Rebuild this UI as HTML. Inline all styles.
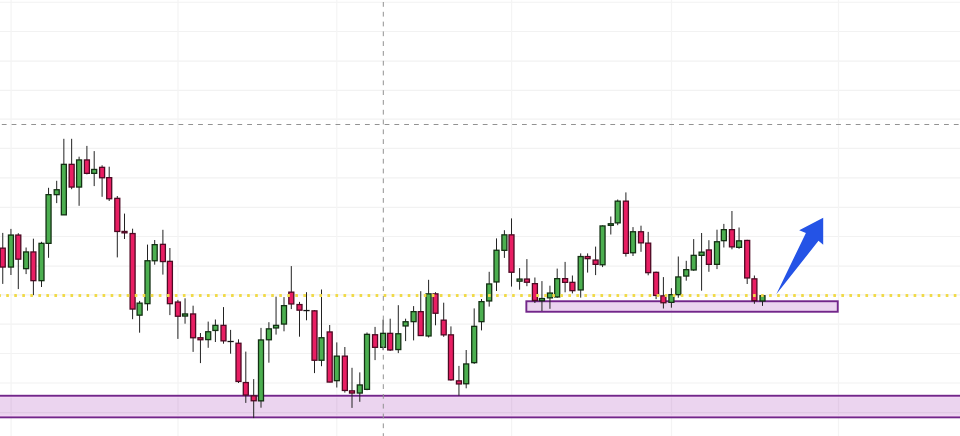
<!DOCTYPE html>
<html><head><meta charset="utf-8"><title>Chart</title>
<style>html,body{margin:0;padding:0;background:#fff;width:960px;height:436px;overflow:hidden;font-family:"Liberation Sans",sans-serif}svg{display:block}</style>
</head><body><svg width="960" height="436" viewBox="0 0 960 436"><g stroke="#f2f2f2" stroke-width="1.15"><line x1="0" y1="2.25" x2="960" y2="2.25"/><line x1="0" y1="31.50" x2="960" y2="31.50"/><line x1="0" y1="61.06" x2="960" y2="61.06"/><line x1="0" y1="90.30" x2="960" y2="90.30"/><line x1="0" y1="119.05" x2="960" y2="119.05"/><line x1="0" y1="148.30" x2="960" y2="148.30"/><line x1="0" y1="177.80" x2="960" y2="177.80"/><line x1="0" y1="207.30" x2="960" y2="207.30"/><line x1="0" y1="236.50" x2="960" y2="236.50"/><line x1="0" y1="266.10" x2="960" y2="266.10"/><line x1="0" y1="294.90" x2="960" y2="294.90"/><line x1="0" y1="324.10" x2="960" y2="324.10"/><line x1="0" y1="353.50" x2="960" y2="353.50"/><line x1="0" y1="382.95" x2="960" y2="382.95"/><line x1="0" y1="412.60" x2="960" y2="412.60"/></g><g stroke="#f4f4f4" stroke-width="1.2"><line x1="11.1" y1="0" x2="11.1" y2="436"/><line x1="178" y1="0" x2="178" y2="436"/><line x1="336.8" y1="0" x2="336.8" y2="436"/><line x1="511.6" y1="0" x2="511.6" y2="436"/><line x1="671.5" y1="0" x2="671.5" y2="436"/><line x1="838.5" y1="0" x2="838.5" y2="436"/></g><rect x="-5" y="395.8" width="970" height="21.5" fill="rgba(156,39,176,0.2)" stroke="#72268a" stroke-width="2"/><line x1="0" y1="397.3" x2="960" y2="397.3" stroke="#fcd8fc" stroke-width="1" opacity="0.7"/><line x1="0" y1="415.8" x2="960" y2="415.8" stroke="#fcd8fc" stroke-width="1" opacity="0.7"/><rect x="526.35" y="301.25" width="311.4" height="10.5" fill="rgba(156,39,176,0.2)" stroke="#72268a" stroke-width="1.9"/><line x1="2.75" y1="232.9" x2="2.75" y2="283.9" stroke="#222222" stroke-width="1"/><rect x="0.25" y="248.15" width="5.00" height="18.90" fill="#e91e63" stroke="#4e0a24" stroke-width="1.3"/><line x1="10.95" y1="228.9" x2="10.95" y2="275.0" stroke="#222222" stroke-width="1"/><rect x="8.45" y="235.05" width="5.00" height="32.00" fill="#4caf50" stroke="#133013" stroke-width="1.3"/><line x1="18.30" y1="233.2" x2="18.30" y2="289.09999999999997" stroke="#222222" stroke-width="1"/><rect x="15.80" y="235.05" width="5.00" height="24.10" fill="#e91e63" stroke="#4e0a24" stroke-width="1.3"/><line x1="26.10" y1="247.5" x2="26.10" y2="274.09999999999997" stroke="#222222" stroke-width="1"/><rect x="23.60" y="251.95" width="5.00" height="16.70" fill="#4caf50" stroke="#133013" stroke-width="1.3"/><line x1="33.40" y1="238.7" x2="33.40" y2="295.09999999999997" stroke="#222222" stroke-width="1"/><rect x="30.90" y="251.95" width="5.00" height="28.70" fill="#e91e63" stroke="#4e0a24" stroke-width="1.3"/><line x1="41.50" y1="241.79999999999998" x2="41.50" y2="287.0" stroke="#222222" stroke-width="1"/><rect x="39.00" y="243.35" width="5.00" height="37.30" fill="#4caf50" stroke="#133013" stroke-width="1.3"/><line x1="48.55" y1="187.79999999999998" x2="48.55" y2="257.79999999999995" stroke="#222222" stroke-width="1"/><rect x="46.05" y="194.65" width="5.00" height="48.70" fill="#4caf50" stroke="#133013" stroke-width="1.3"/><line x1="56.70" y1="180.79999999999998" x2="56.70" y2="203.1" stroke="#222222" stroke-width="1"/><rect x="54.20" y="189.75" width="5.00" height="4.90" fill="#4caf50" stroke="#133013" stroke-width="1.3"/><line x1="63.85" y1="138.79999999999998" x2="63.85" y2="215.0" stroke="#222222" stroke-width="1"/><rect x="61.35" y="164.35" width="5.00" height="50.50" fill="#4caf50" stroke="#133013" stroke-width="1.3"/><line x1="71.65" y1="138.79999999999998" x2="71.65" y2="189.20000000000002" stroke="#222222" stroke-width="1"/><rect x="69.15" y="164.35" width="5.00" height="22.70" fill="#e91e63" stroke="#4e0a24" stroke-width="1.3"/><line x1="79.10" y1="156.7" x2="79.10" y2="205.8" stroke="#222222" stroke-width="1"/><rect x="76.60" y="159.95" width="5.00" height="27.10" fill="#4caf50" stroke="#133013" stroke-width="1.3"/><line x1="86.90" y1="145.9" x2="86.90" y2="174.4" stroke="#222222" stroke-width="1"/><rect x="84.40" y="159.95" width="5.00" height="13.40" fill="#e91e63" stroke="#4e0a24" stroke-width="1.3"/><line x1="94.20" y1="151.1" x2="94.20" y2="186.1" stroke="#222222" stroke-width="1"/><rect x="91.70" y="169.45" width="5.00" height="3.90" fill="#4caf50" stroke="#133013" stroke-width="1.3"/><line x1="102.10" y1="165.3" x2="102.10" y2="196.8" stroke="#222222" stroke-width="1"/><rect x="99.60" y="167.35" width="5.00" height="10.40" fill="#e91e63" stroke="#4e0a24" stroke-width="1.3"/><line x1="109.20" y1="166.7" x2="109.20" y2="201.0" stroke="#222222" stroke-width="1"/><rect x="106.70" y="177.65" width="5.00" height="21.10" fill="#e91e63" stroke="#4e0a24" stroke-width="1.3"/><line x1="117.30" y1="196.0" x2="117.30" y2="257.4" stroke="#222222" stroke-width="1"/><rect x="114.80" y="198.35" width="5.00" height="33.10" fill="#e91e63" stroke="#4e0a24" stroke-width="1.3"/><line x1="124.50" y1="213.6" x2="124.50" y2="239.0" stroke="#222222" stroke-width="1"/><rect x="122.00" y="231.45" width="5.00" height="1.40" fill="#e91e63" stroke="#4e0a24" stroke-width="1.3"/><line x1="132.60" y1="228.7" x2="132.60" y2="319.2" stroke="#222222" stroke-width="1"/><rect x="130.10" y="233.55" width="5.00" height="75.50" fill="#e91e63" stroke="#4e0a24" stroke-width="1.3"/><line x1="139.60" y1="300.90000000000003" x2="139.60" y2="332.7" stroke="#222222" stroke-width="1"/><rect x="137.10" y="303.15" width="5.00" height="12.00" fill="#4caf50" stroke="#133013" stroke-width="1.3"/><line x1="147.50" y1="244.6" x2="147.50" y2="310.7" stroke="#222222" stroke-width="1"/><rect x="145.00" y="260.75" width="5.00" height="42.90" fill="#4caf50" stroke="#133013" stroke-width="1.3"/><line x1="154.70" y1="240.0" x2="154.70" y2="264.7" stroke="#222222" stroke-width="1"/><rect x="152.20" y="244.65" width="5.00" height="16.10" fill="#4caf50" stroke="#133013" stroke-width="1.3"/><line x1="162.90" y1="229.79999999999998" x2="162.90" y2="274.59999999999997" stroke="#222222" stroke-width="1"/><rect x="160.40" y="244.35" width="5.00" height="17.20" fill="#e91e63" stroke="#4e0a24" stroke-width="1.3"/><line x1="169.90" y1="248.0" x2="169.90" y2="315.1" stroke="#222222" stroke-width="1"/><rect x="167.40" y="261.35" width="5.00" height="42.30" fill="#e91e63" stroke="#4e0a24" stroke-width="1.3"/><line x1="177.90" y1="299.90000000000003" x2="177.90" y2="338.9" stroke="#222222" stroke-width="1"/><rect x="175.40" y="302.05" width="5.00" height="14.20" fill="#e91e63" stroke="#4e0a24" stroke-width="1.3"/><line x1="185.05" y1="298.3" x2="185.05" y2="323.7" stroke="#222222" stroke-width="1"/><rect x="182.55" y="313.95" width="5.00" height="2.10" fill="#4caf50" stroke="#133013" stroke-width="1.3"/><line x1="193.10" y1="305.70000000000005" x2="193.10" y2="351.9" stroke="#222222" stroke-width="1"/><rect x="190.60" y="313.95" width="5.00" height="23.80" fill="#e91e63" stroke="#4e0a24" stroke-width="1.3"/><line x1="200.45" y1="333.0" x2="200.45" y2="363.09999999999997" stroke="#222222" stroke-width="1"/><rect x="197.95" y="337.75" width="5.00" height="2.00" fill="#e91e63" stroke="#4e0a24" stroke-width="1.3"/><line x1="208.20" y1="321.6" x2="208.20" y2="347.79999999999995" stroke="#222222" stroke-width="1"/><rect x="205.70" y="331.75" width="5.00" height="7.85" fill="#4caf50" stroke="#133013" stroke-width="1.3"/><line x1="215.40" y1="319.5" x2="215.40" y2="342.0" stroke="#222222" stroke-width="1"/><rect x="212.90" y="325.35" width="5.00" height="5.10" fill="#4caf50" stroke="#133013" stroke-width="1.3"/><line x1="223.50" y1="307.1" x2="223.50" y2="343.7" stroke="#222222" stroke-width="1"/><rect x="221.00" y="325.35" width="5.00" height="15.50" fill="#e91e63" stroke="#4e0a24" stroke-width="1.3"/><line x1="230.60" y1="329.90000000000003" x2="230.60" y2="353.7" stroke="#222222" stroke-width="1"/><line x1="227.45" y1="341.50" x2="233.75" y2="341.50" stroke="#141414" stroke-width="1.3"/><line x1="238.50" y1="339.3" x2="238.50" y2="383.0" stroke="#222222" stroke-width="1"/><rect x="236.00" y="343.25" width="5.00" height="38.20" fill="#e91e63" stroke="#4e0a24" stroke-width="1.3"/><line x1="245.80" y1="351.6" x2="245.80" y2="402.9" stroke="#222222" stroke-width="1"/><rect x="243.30" y="382.55" width="5.00" height="12.50" fill="#e91e63" stroke="#4e0a24" stroke-width="1.3"/><line x1="253.70" y1="379.1" x2="253.70" y2="418.09999999999997" stroke="#222222" stroke-width="1"/><rect x="251.20" y="395.85" width="5.00" height="4.90" fill="#e91e63" stroke="#4e0a24" stroke-width="1.3"/><line x1="261.00" y1="327.90000000000003" x2="261.00" y2="407.7" stroke="#222222" stroke-width="1"/><rect x="258.50" y="339.95" width="5.00" height="60.90" fill="#4caf50" stroke="#133013" stroke-width="1.3"/><line x1="268.90" y1="322.2" x2="268.90" y2="362.7" stroke="#222222" stroke-width="1"/><rect x="266.40" y="328.85" width="5.00" height="10.90" fill="#4caf50" stroke="#133013" stroke-width="1.3"/><line x1="276.05" y1="296.70000000000005" x2="276.05" y2="334.6" stroke="#222222" stroke-width="1"/><rect x="273.55" y="325.35" width="5.00" height="2.60" fill="#4caf50" stroke="#133013" stroke-width="1.3"/><line x1="284.00" y1="297.1" x2="284.00" y2="331.3" stroke="#222222" stroke-width="1"/><rect x="281.50" y="305.65" width="5.00" height="18.40" fill="#4caf50" stroke="#133013" stroke-width="1.3"/><line x1="291.30" y1="266.1" x2="291.30" y2="309.1" stroke="#222222" stroke-width="1"/><rect x="288.80" y="292.15" width="5.00" height="11.80" fill="#e91e63" stroke="#4e0a24" stroke-width="1.3"/><line x1="299.50" y1="301.90000000000003" x2="299.50" y2="336.7" stroke="#222222" stroke-width="1"/><rect x="297.00" y="304.55" width="5.00" height="5.60" fill="#e91e63" stroke="#4e0a24" stroke-width="1.3"/><line x1="306.50" y1="292.2" x2="306.50" y2="320.29999999999995" stroke="#222222" stroke-width="1"/><line x1="303.35" y1="310.55" x2="309.65" y2="310.55" stroke="#141414" stroke-width="1.3"/><line x1="314.50" y1="310.1" x2="314.50" y2="373.09999999999997" stroke="#222222" stroke-width="1"/><rect x="312.00" y="310.85" width="5.00" height="49.40" fill="#e91e63" stroke="#4e0a24" stroke-width="1.3"/><line x1="321.50" y1="289.5" x2="321.50" y2="366.2" stroke="#222222" stroke-width="1"/><rect x="319.00" y="337.75" width="5.00" height="22.50" fill="#4caf50" stroke="#133013" stroke-width="1.3"/><line x1="329.70" y1="325.0" x2="329.70" y2="382.2" stroke="#222222" stroke-width="1"/><rect x="327.20" y="331.95" width="5.00" height="50.10" fill="#e91e63" stroke="#4e0a24" stroke-width="1.3"/><line x1="336.80" y1="342.40000000000003" x2="336.80" y2="387.5" stroke="#222222" stroke-width="1"/><rect x="334.30" y="356.15" width="5.00" height="24.50" fill="#4caf50" stroke="#133013" stroke-width="1.3"/><line x1="344.85" y1="347.0" x2="344.85" y2="392.59999999999997" stroke="#222222" stroke-width="1"/><rect x="342.35" y="356.15" width="5.00" height="34.30" fill="#e91e63" stroke="#4e0a24" stroke-width="1.3"/><line x1="352.00" y1="367.8" x2="352.00" y2="407.9" stroke="#222222" stroke-width="1"/><rect x="349.50" y="390.85" width="5.00" height="2.20" fill="#e91e63" stroke="#4e0a24" stroke-width="1.3"/><line x1="359.80" y1="372.40000000000003" x2="359.80" y2="401.79999999999995" stroke="#222222" stroke-width="1"/><rect x="357.30" y="384.95" width="5.00" height="8.10" fill="#4caf50" stroke="#133013" stroke-width="1.3"/><line x1="367.00" y1="332.5" x2="367.00" y2="390.2" stroke="#222222" stroke-width="1"/><rect x="364.50" y="334.35" width="5.00" height="55.00" fill="#4caf50" stroke="#133013" stroke-width="1.3"/><line x1="375.05" y1="326.90000000000003" x2="375.05" y2="360.09999999999997" stroke="#222222" stroke-width="1"/><rect x="372.55" y="334.75" width="5.00" height="12.60" fill="#e91e63" stroke="#4e0a24" stroke-width="1.3"/><line x1="383.10" y1="319.70000000000005" x2="383.10" y2="350.2" stroke="#222222" stroke-width="1"/><rect x="380.60" y="333.35" width="5.00" height="14.00" fill="#4caf50" stroke="#133013" stroke-width="1.3"/><line x1="390.20" y1="318.70000000000005" x2="390.20" y2="351.0" stroke="#222222" stroke-width="1"/><rect x="387.70" y="333.35" width="5.00" height="16.60" fill="#e91e63" stroke="#4e0a24" stroke-width="1.3"/><line x1="398.30" y1="305.20000000000005" x2="398.30" y2="353.09999999999997" stroke="#222222" stroke-width="1"/><rect x="395.80" y="333.75" width="5.00" height="15.80" fill="#4caf50" stroke="#133013" stroke-width="1.3"/><line x1="405.60" y1="318.70000000000005" x2="405.60" y2="341.1" stroke="#222222" stroke-width="1"/><rect x="403.10" y="321.75" width="5.00" height="4.20" fill="#4caf50" stroke="#133013" stroke-width="1.3"/><line x1="413.60" y1="306.1" x2="413.60" y2="340.4" stroke="#222222" stroke-width="1"/><rect x="411.10" y="311.65" width="5.00" height="10.00" fill="#4caf50" stroke="#133013" stroke-width="1.3"/><line x1="420.75" y1="291.20000000000005" x2="420.75" y2="335.7" stroke="#222222" stroke-width="1"/><rect x="418.25" y="311.65" width="5.00" height="23.90" fill="#e91e63" stroke="#4e0a24" stroke-width="1.3"/><line x1="428.60" y1="279.8" x2="428.60" y2="337.5" stroke="#222222" stroke-width="1"/><rect x="426.10" y="293.85" width="5.00" height="42.10" fill="#4caf50" stroke="#133013" stroke-width="1.3"/><line x1="435.50" y1="292.20000000000005" x2="435.50" y2="325.3" stroke="#222222" stroke-width="1"/><rect x="433.00" y="293.85" width="5.00" height="19.40" fill="#e91e63" stroke="#4e0a24" stroke-width="1.3"/><line x1="443.70" y1="302.70000000000005" x2="443.70" y2="336.79999999999995" stroke="#222222" stroke-width="1"/><rect x="441.20" y="320.15" width="5.00" height="14.70" fill="#e91e63" stroke="#4e0a24" stroke-width="1.3"/><line x1="450.95" y1="326.4" x2="450.95" y2="380.7" stroke="#222222" stroke-width="1"/><rect x="448.45" y="334.85" width="5.00" height="45.00" fill="#e91e63" stroke="#4e0a24" stroke-width="1.3"/><line x1="458.95" y1="365.9" x2="458.95" y2="395.7" stroke="#222222" stroke-width="1"/><rect x="456.45" y="380.85" width="5.00" height="3.10" fill="#e91e63" stroke="#4e0a24" stroke-width="1.3"/><line x1="466.20" y1="350.0" x2="466.20" y2="388.3" stroke="#222222" stroke-width="1"/><rect x="463.70" y="363.95" width="5.00" height="19.80" fill="#4caf50" stroke="#133013" stroke-width="1.3"/><line x1="474.20" y1="308.40000000000003" x2="474.20" y2="363.9" stroke="#222222" stroke-width="1"/><rect x="471.70" y="326.35" width="5.00" height="36.30" fill="#4caf50" stroke="#133013" stroke-width="1.3"/><line x1="481.50" y1="299.0" x2="481.50" y2="330.4" stroke="#222222" stroke-width="1"/><rect x="479.00" y="301.65" width="5.00" height="20.00" fill="#4caf50" stroke="#133013" stroke-width="1.3"/><line x1="489.20" y1="271.8" x2="489.20" y2="306.59999999999997" stroke="#222222" stroke-width="1"/><rect x="486.70" y="283.95" width="5.00" height="17.00" fill="#4caf50" stroke="#133013" stroke-width="1.3"/><line x1="496.50" y1="238.4" x2="496.50" y2="291.0" stroke="#222222" stroke-width="1"/><rect x="494.00" y="250.25" width="5.00" height="31.70" fill="#4caf50" stroke="#133013" stroke-width="1.3"/><line x1="504.40" y1="230.2" x2="504.40" y2="257.9" stroke="#222222" stroke-width="1"/><rect x="501.90" y="234.85" width="5.00" height="15.50" fill="#4caf50" stroke="#133013" stroke-width="1.3"/><line x1="511.50" y1="218.4" x2="511.50" y2="286.6" stroke="#222222" stroke-width="1"/><rect x="509.00" y="234.85" width="5.00" height="37.40" fill="#e91e63" stroke="#4e0a24" stroke-width="1.3"/><line x1="519.60" y1="268.1" x2="519.60" y2="289.7" stroke="#222222" stroke-width="1"/><rect x="517.10" y="279.05" width="5.00" height="2.10" fill="#4caf50" stroke="#133013" stroke-width="1.3"/><line x1="526.90" y1="259.1" x2="526.90" y2="286.2" stroke="#222222" stroke-width="1"/><rect x="524.40" y="279.05" width="5.00" height="3.20" fill="#e91e63" stroke="#4e0a24" stroke-width="1.3"/><line x1="534.90" y1="277.5" x2="534.90" y2="303.0" stroke="#222222" stroke-width="1"/><rect x="532.40" y="283.65" width="5.00" height="16.80" fill="#e91e63" stroke="#4e0a24" stroke-width="1.3"/><line x1="541.95" y1="281.1" x2="541.95" y2="311.0" stroke="#222222" stroke-width="1"/><rect x="539.45" y="298.55" width="5.00" height="2.20" fill="#4caf50" stroke="#133013" stroke-width="1.3"/><line x1="549.95" y1="285.70000000000005" x2="549.95" y2="308.8" stroke="#222222" stroke-width="1"/><rect x="547.45" y="293.05" width="5.00" height="4.80" fill="#4caf50" stroke="#133013" stroke-width="1.3"/><line x1="557.20" y1="268.6" x2="557.20" y2="297.79999999999995" stroke="#222222" stroke-width="1"/><rect x="554.70" y="278.65" width="5.00" height="18.30" fill="#4caf50" stroke="#133013" stroke-width="1.3"/><line x1="565.10" y1="261.90000000000003" x2="565.10" y2="292.29999999999995" stroke="#222222" stroke-width="1"/><rect x="562.60" y="278.65" width="5.00" height="3.70" fill="#e91e63" stroke="#4e0a24" stroke-width="1.3"/><line x1="572.40" y1="275.5" x2="572.40" y2="293.4" stroke="#222222" stroke-width="1"/><rect x="569.90" y="282.35" width="5.00" height="8.30" fill="#e91e63" stroke="#4e0a24" stroke-width="1.3"/><line x1="580.70" y1="253.4" x2="580.70" y2="297.59999999999997" stroke="#222222" stroke-width="1"/><rect x="578.20" y="256.55" width="5.00" height="33.40" fill="#4caf50" stroke="#133013" stroke-width="1.3"/><line x1="587.60" y1="253.4" x2="587.60" y2="272.6" stroke="#222222" stroke-width="1"/><rect x="585.10" y="256.55" width="5.00" height="2.10" fill="#e91e63" stroke="#4e0a24" stroke-width="1.3"/><line x1="595.60" y1="246.6" x2="595.60" y2="275.1" stroke="#222222" stroke-width="1"/><rect x="593.10" y="260.05" width="5.00" height="4.30" fill="#e91e63" stroke="#4e0a24" stroke-width="1.3"/><line x1="602.55" y1="225.4" x2="602.55" y2="267.1" stroke="#222222" stroke-width="1"/><rect x="600.05" y="225.95" width="5.00" height="38.80" fill="#4caf50" stroke="#133013" stroke-width="1.3"/><line x1="610.80" y1="216.5" x2="610.80" y2="234.5" stroke="#222222" stroke-width="1"/><rect x="608.30" y="223.75" width="5.00" height="1.60" fill="#4caf50" stroke="#133013" stroke-width="1.3"/><line x1="617.70" y1="199.5" x2="617.70" y2="225.20000000000002" stroke="#222222" stroke-width="1"/><rect x="615.20" y="201.15" width="5.00" height="21.70" fill="#4caf50" stroke="#133013" stroke-width="1.3"/><line x1="625.90" y1="192.4" x2="625.90" y2="256.59999999999997" stroke="#222222" stroke-width="1"/><rect x="623.40" y="201.15" width="5.00" height="52.20" fill="#e91e63" stroke="#4e0a24" stroke-width="1.3"/><line x1="633.00" y1="227.1" x2="633.00" y2="256.0" stroke="#222222" stroke-width="1"/><rect x="630.50" y="231.75" width="5.00" height="21.00" fill="#4caf50" stroke="#133013" stroke-width="1.3"/><line x1="641.00" y1="225.7" x2="641.00" y2="251.8" stroke="#222222" stroke-width="1"/><rect x="638.50" y="231.75" width="5.00" height="11.10" fill="#e91e63" stroke="#4e0a24" stroke-width="1.3"/><line x1="648.20" y1="231.9" x2="648.20" y2="275.29999999999995" stroke="#222222" stroke-width="1"/><rect x="645.70" y="243.15" width="5.00" height="29.50" fill="#e91e63" stroke="#4e0a24" stroke-width="1.3"/><line x1="656.10" y1="271.6" x2="656.10" y2="299.09999999999997" stroke="#222222" stroke-width="1"/><rect x="653.60" y="272.35" width="5.00" height="23.10" fill="#e91e63" stroke="#4e0a24" stroke-width="1.3"/><line x1="663.40" y1="277.1" x2="663.40" y2="308.5" stroke="#222222" stroke-width="1"/><rect x="660.90" y="295.85" width="5.00" height="6.90" fill="#e91e63" stroke="#4e0a24" stroke-width="1.3"/><line x1="671.40" y1="288.2" x2="671.40" y2="307.7" stroke="#222222" stroke-width="1"/><rect x="668.90" y="294.65" width="5.00" height="7.70" fill="#4caf50" stroke="#133013" stroke-width="1.3"/><line x1="678.30" y1="256.5" x2="678.30" y2="297.7" stroke="#222222" stroke-width="1"/><rect x="675.80" y="276.95" width="5.00" height="17.70" fill="#4caf50" stroke="#133013" stroke-width="1.3"/><line x1="686.25" y1="260.8" x2="686.25" y2="280.7" stroke="#222222" stroke-width="1"/><rect x="683.75" y="269.65" width="5.00" height="6.40" fill="#4caf50" stroke="#133013" stroke-width="1.3"/><line x1="693.70" y1="239.1" x2="693.70" y2="270.9" stroke="#222222" stroke-width="1"/><rect x="691.20" y="255.35" width="5.00" height="14.60" fill="#4caf50" stroke="#133013" stroke-width="1.3"/><line x1="701.60" y1="233.0" x2="701.60" y2="290.7" stroke="#222222" stroke-width="1"/><rect x="699.10" y="252.15" width="5.00" height="3.20" fill="#4caf50" stroke="#133013" stroke-width="1.3"/><line x1="708.90" y1="240.2" x2="708.90" y2="271.79999999999995" stroke="#222222" stroke-width="1"/><rect x="706.40" y="249.95" width="5.00" height="14.40" fill="#e91e63" stroke="#4e0a24" stroke-width="1.3"/><line x1="717.00" y1="229.7" x2="717.00" y2="269.09999999999997" stroke="#222222" stroke-width="1"/><rect x="714.50" y="241.75" width="5.00" height="22.60" fill="#4caf50" stroke="#133013" stroke-width="1.3"/><line x1="723.85" y1="223.9" x2="723.85" y2="247.5" stroke="#222222" stroke-width="1"/><rect x="721.35" y="229.65" width="5.00" height="11.00" fill="#4caf50" stroke="#133013" stroke-width="1.3"/><line x1="731.95" y1="211.0" x2="731.95" y2="249.3" stroke="#222222" stroke-width="1"/><rect x="729.45" y="229.65" width="5.00" height="17.20" fill="#e91e63" stroke="#4e0a24" stroke-width="1.3"/><line x1="739.05" y1="227.5" x2="739.05" y2="248.8" stroke="#222222" stroke-width="1"/><rect x="736.55" y="240.85" width="5.00" height="6.50" fill="#4caf50" stroke="#133013" stroke-width="1.3"/><line x1="747.20" y1="239.79999999999998" x2="747.20" y2="284.0" stroke="#222222" stroke-width="1"/><rect x="744.70" y="240.45" width="5.00" height="37.50" fill="#e91e63" stroke="#4e0a24" stroke-width="1.3"/><line x1="754.40" y1="275.5" x2="754.40" y2="303.8" stroke="#222222" stroke-width="1"/><rect x="751.90" y="278.85" width="5.00" height="21.80" fill="#e91e63" stroke="#4e0a24" stroke-width="1.3"/><line x1="762.50" y1="294.1" x2="762.50" y2="305.9" stroke="#222222" stroke-width="1"/><rect x="760.00" y="295.75" width="5.00" height="5.20" fill="#4caf50" stroke="#133013" stroke-width="1.3"/><g fill="#f0da48"><rect x="-1.83" y="294.0" width="2.7" height="3.0" rx="0.6"/><rect x="6.20" y="294.0" width="2.7" height="3.0" rx="0.6"/><rect x="14.23" y="294.0" width="2.7" height="3.0" rx="0.6"/><rect x="22.26" y="294.0" width="2.7" height="3.0" rx="0.6"/><rect x="30.29" y="294.0" width="2.7" height="3.0" rx="0.6"/><rect x="38.32" y="294.0" width="2.7" height="3.0" rx="0.6"/><rect x="46.35" y="294.0" width="2.7" height="3.0" rx="0.6"/><rect x="54.38" y="294.0" width="2.7" height="3.0" rx="0.6"/><rect x="62.41" y="294.0" width="2.7" height="3.0" rx="0.6"/><rect x="70.44" y="294.0" width="2.7" height="3.0" rx="0.6"/><rect x="78.47" y="294.0" width="2.7" height="3.0" rx="0.6"/><rect x="86.50" y="294.0" width="2.7" height="3.0" rx="0.6"/><rect x="94.53" y="294.0" width="2.7" height="3.0" rx="0.6"/><rect x="102.56" y="294.0" width="2.7" height="3.0" rx="0.6"/><rect x="110.59" y="294.0" width="2.7" height="3.0" rx="0.6"/><rect x="118.62" y="294.0" width="2.7" height="3.0" rx="0.6"/><rect x="126.65" y="294.0" width="2.7" height="3.0" rx="0.6"/><rect x="134.68" y="294.0" width="2.7" height="3.0" rx="0.6"/><rect x="142.71" y="294.0" width="2.7" height="3.0" rx="0.6"/><rect x="150.74" y="294.0" width="2.7" height="3.0" rx="0.6"/><rect x="158.77" y="294.0" width="2.7" height="3.0" rx="0.6"/><rect x="166.80" y="294.0" width="2.7" height="3.0" rx="0.6"/><rect x="174.83" y="294.0" width="2.7" height="3.0" rx="0.6"/><rect x="182.86" y="294.0" width="2.7" height="3.0" rx="0.6"/><rect x="190.89" y="294.0" width="2.7" height="3.0" rx="0.6"/><rect x="198.92" y="294.0" width="2.7" height="3.0" rx="0.6"/><rect x="206.95" y="294.0" width="2.7" height="3.0" rx="0.6"/><rect x="214.98" y="294.0" width="2.7" height="3.0" rx="0.6"/><rect x="223.01" y="294.0" width="2.7" height="3.0" rx="0.6"/><rect x="231.04" y="294.0" width="2.7" height="3.0" rx="0.6"/><rect x="239.07" y="294.0" width="2.7" height="3.0" rx="0.6"/><rect x="247.10" y="294.0" width="2.7" height="3.0" rx="0.6"/><rect x="255.13" y="294.0" width="2.7" height="3.0" rx="0.6"/><rect x="263.16" y="294.0" width="2.7" height="3.0" rx="0.6"/><rect x="271.19" y="294.0" width="2.7" height="3.0" rx="0.6"/><rect x="279.22" y="294.0" width="2.7" height="3.0" rx="0.6"/><rect x="287.25" y="294.0" width="2.7" height="3.0" rx="0.6"/><rect x="295.28" y="294.0" width="2.7" height="3.0" rx="0.6"/><rect x="303.31" y="294.0" width="2.7" height="3.0" rx="0.6"/><rect x="311.34" y="294.0" width="2.7" height="3.0" rx="0.6"/><rect x="319.37" y="294.0" width="2.7" height="3.0" rx="0.6"/><rect x="327.40" y="294.0" width="2.7" height="3.0" rx="0.6"/><rect x="335.43" y="294.0" width="2.7" height="3.0" rx="0.6"/><rect x="343.46" y="294.0" width="2.7" height="3.0" rx="0.6"/><rect x="351.49" y="294.0" width="2.7" height="3.0" rx="0.6"/><rect x="359.52" y="294.0" width="2.7" height="3.0" rx="0.6"/><rect x="367.55" y="294.0" width="2.7" height="3.0" rx="0.6"/><rect x="375.58" y="294.0" width="2.7" height="3.0" rx="0.6"/><rect x="383.61" y="294.0" width="2.7" height="3.0" rx="0.6"/><rect x="391.64" y="294.0" width="2.7" height="3.0" rx="0.6"/><rect x="399.67" y="294.0" width="2.7" height="3.0" rx="0.6"/><rect x="407.70" y="294.0" width="2.7" height="3.0" rx="0.6"/><rect x="415.73" y="294.0" width="2.7" height="3.0" rx="0.6"/><rect x="423.76" y="294.0" width="2.7" height="3.0" rx="0.6"/><rect x="431.79" y="294.0" width="2.7" height="3.0" rx="0.6"/><rect x="439.82" y="294.0" width="2.7" height="3.0" rx="0.6"/><rect x="447.85" y="294.0" width="2.7" height="3.0" rx="0.6"/><rect x="455.88" y="294.0" width="2.7" height="3.0" rx="0.6"/><rect x="463.91" y="294.0" width="2.7" height="3.0" rx="0.6"/><rect x="471.94" y="294.0" width="2.7" height="3.0" rx="0.6"/><rect x="479.97" y="294.0" width="2.7" height="3.0" rx="0.6"/><rect x="488.00" y="294.0" width="2.7" height="3.0" rx="0.6"/><rect x="496.03" y="294.0" width="2.7" height="3.0" rx="0.6"/><rect x="504.06" y="294.0" width="2.7" height="3.0" rx="0.6"/><rect x="512.09" y="294.0" width="2.7" height="3.0" rx="0.6"/><rect x="520.12" y="294.0" width="2.7" height="3.0" rx="0.6"/><rect x="528.15" y="294.0" width="2.7" height="3.0" rx="0.6"/><rect x="536.18" y="294.0" width="2.7" height="3.0" rx="0.6"/><rect x="544.21" y="294.0" width="2.7" height="3.0" rx="0.6"/><rect x="552.24" y="294.0" width="2.7" height="3.0" rx="0.6"/><rect x="560.27" y="294.0" width="2.7" height="3.0" rx="0.6"/><rect x="568.30" y="294.0" width="2.7" height="3.0" rx="0.6"/><rect x="576.33" y="294.0" width="2.7" height="3.0" rx="0.6"/><rect x="584.36" y="294.0" width="2.7" height="3.0" rx="0.6"/><rect x="592.39" y="294.0" width="2.7" height="3.0" rx="0.6"/><rect x="600.42" y="294.0" width="2.7" height="3.0" rx="0.6"/><rect x="608.45" y="294.0" width="2.7" height="3.0" rx="0.6"/><rect x="616.48" y="294.0" width="2.7" height="3.0" rx="0.6"/><rect x="624.51" y="294.0" width="2.7" height="3.0" rx="0.6"/><rect x="632.54" y="294.0" width="2.7" height="3.0" rx="0.6"/><rect x="640.57" y="294.0" width="2.7" height="3.0" rx="0.6"/><rect x="648.60" y="294.0" width="2.7" height="3.0" rx="0.6"/><rect x="656.63" y="294.0" width="2.7" height="3.0" rx="0.6"/><rect x="664.66" y="294.0" width="2.7" height="3.0" rx="0.6"/><rect x="672.69" y="294.0" width="2.7" height="3.0" rx="0.6"/><rect x="680.72" y="294.0" width="2.7" height="3.0" rx="0.6"/><rect x="688.75" y="294.0" width="2.7" height="3.0" rx="0.6"/><rect x="696.78" y="294.0" width="2.7" height="3.0" rx="0.6"/><rect x="704.81" y="294.0" width="2.7" height="3.0" rx="0.6"/><rect x="712.84" y="294.0" width="2.7" height="3.0" rx="0.6"/><rect x="720.87" y="294.0" width="2.7" height="3.0" rx="0.6"/><rect x="728.90" y="294.0" width="2.7" height="3.0" rx="0.6"/><rect x="736.93" y="294.0" width="2.7" height="3.0" rx="0.6"/><rect x="744.96" y="294.0" width="2.7" height="3.0" rx="0.6"/><rect x="752.99" y="294.0" width="2.7" height="3.0" rx="0.6"/><rect x="761.02" y="294.0" width="2.7" height="3.0" rx="0.6"/><rect x="769.05" y="294.0" width="2.7" height="3.0" rx="0.6"/><rect x="777.08" y="294.0" width="2.7" height="3.0" rx="0.6"/><rect x="785.11" y="294.0" width="2.7" height="3.0" rx="0.6"/><rect x="793.14" y="294.0" width="2.7" height="3.0" rx="0.6"/><rect x="801.17" y="294.0" width="2.7" height="3.0" rx="0.6"/><rect x="809.20" y="294.0" width="2.7" height="3.0" rx="0.6"/><rect x="817.23" y="294.0" width="2.7" height="3.0" rx="0.6"/><rect x="825.26" y="294.0" width="2.7" height="3.0" rx="0.6"/><rect x="833.29" y="294.0" width="2.7" height="3.0" rx="0.6"/><rect x="841.32" y="294.0" width="2.7" height="3.0" rx="0.6"/><rect x="849.35" y="294.0" width="2.7" height="3.0" rx="0.6"/><rect x="857.38" y="294.0" width="2.7" height="3.0" rx="0.6"/><rect x="865.41" y="294.0" width="2.7" height="3.0" rx="0.6"/><rect x="873.44" y="294.0" width="2.7" height="3.0" rx="0.6"/><rect x="881.47" y="294.0" width="2.7" height="3.0" rx="0.6"/><rect x="889.50" y="294.0" width="2.7" height="3.0" rx="0.6"/><rect x="897.53" y="294.0" width="2.7" height="3.0" rx="0.6"/><rect x="905.56" y="294.0" width="2.7" height="3.0" rx="0.6"/><rect x="913.59" y="294.0" width="2.7" height="3.0" rx="0.6"/><rect x="921.62" y="294.0" width="2.7" height="3.0" rx="0.6"/><rect x="929.65" y="294.0" width="2.7" height="3.0" rx="0.6"/><rect x="937.68" y="294.0" width="2.7" height="3.0" rx="0.6"/><rect x="945.71" y="294.0" width="2.7" height="3.0" rx="0.6"/><rect x="953.74" y="294.0" width="2.7" height="3.0" rx="0.6"/></g><line x1="0" y1="124.5" x2="960" y2="124.5" stroke="#929292" stroke-width="1" stroke-dasharray="4.8 5.015" stroke-dashoffset="-1.8"/><line x1="383.3" y1="0" x2="383.3" y2="436" stroke="#929292" stroke-width="1" stroke-dasharray="4.8 5.0" stroke-dashoffset="-2"/><polygon points="776.3,294.3 805.9,232.9 799.2,230.3 823.2,217.8 823.2,244.8 818.5,240.8" fill="#2453e6"/></svg></body></html>
